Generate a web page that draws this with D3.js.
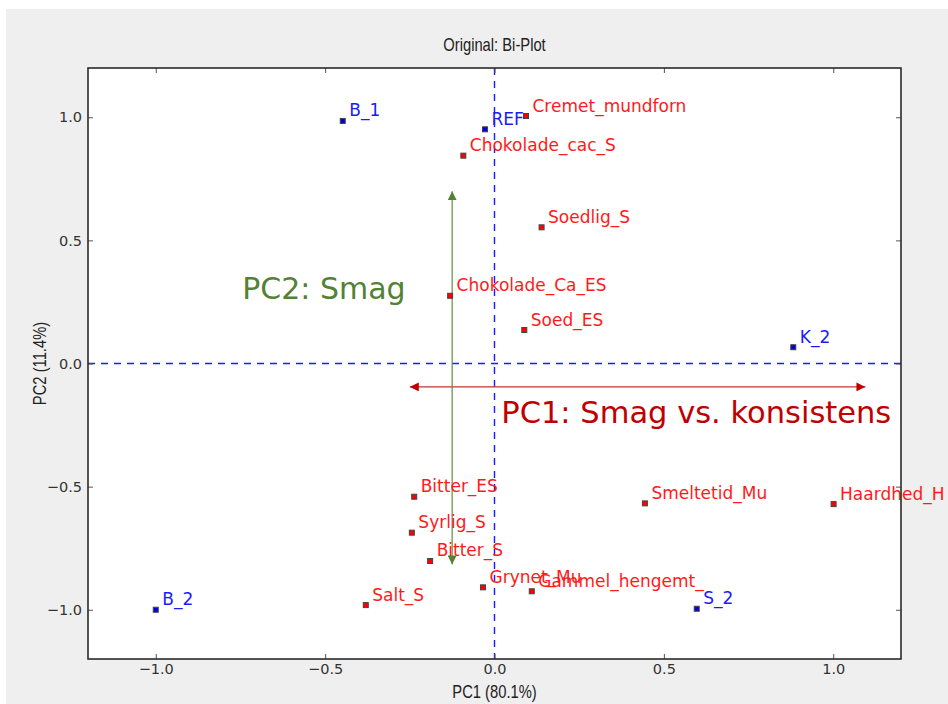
<!DOCTYPE html>
<html>
<head>
<meta charset="utf-8">
<script src="https://cdn.jsdelivr.net/npm/d3@7"></script>
<style>
  html, body { margin: 0; padding: 0; background: #ffffff; }
  svg { display: block; }
</style>
</head>
<body>
<svg id="chart" width="948" height="704"></svg>
<script>
// ---------- data ----------
const sampleNames = ["B_1", "REF", "K_2", "B_2", "S_2"];
const sampleX = [-0.448, -0.028, 0.882, -1.0, 0.597];
const sampleY = [0.985, 0.951, 0.066, -1.0, -0.996];

const varNames = ["Cremet_mundforn", "Chokolade_cac_S", "Soedlig_S", "Chokolade_Ca_ES", "Soed_ES",
                  "Bitter_ES", "Syrlig_S", "Bitter_S", "Salt_S", "Grynet_Mu", "Gammel_hengemt_",
                  "Smeltetid_Mu", "Haardhed_H"];
const varX = [0.093, -0.092, 0.139, -0.131, 0.088, -0.237, -0.244, -0.190, -0.380, -0.034, 0.110, 0.444, 1.001];
const varY = [1.005, 0.844, 0.553, 0.275, 0.136, -0.541, -0.687, -0.802, -0.981, -0.909, -0.925, -0.568, -0.571];

const xTicks = [-1.0, -0.5, 0.0, 0.5, 1.0];
const yTicks = [-1.0, -0.5, 0.0, 0.5, 1.0];
const xDomain = [-1.2, 1.2];
const yDomain = [-1.2, 1.2];

const titleText = "Original: Bi-Plot";
const xLabel = "PC1 (80.1%)";
const yLabel = "PC2 (11.4%)";

// annotation arrows (data units) and captions
const pc1Arrow = { x1: -0.25, x2: 1.095, y: -0.095 };
const pc2Arrow = { x: -0.125, y1: 0.70, y2: -0.816 };
const pc1Caption = { text: "PC1: Smag vs. konsistens", x: 0.020, y: -0.243 };
const pc2Caption = { text: "PC2: Smag", x: -0.745, y: 0.261 };

// ---------- layout ----------
const W = 948, H = 704;
const plot = { left: 88, right: 901, top: 68, bottom: 659 };

const svg = d3.select("#chart");

// outer grey panel
svg.append("rect").attr("x", 6).attr("y", 9).attr("width", W - 6).attr("height", H - 9)
  .attr("fill", "#efefef");

const x = d3.scaleLinear().domain(xDomain).range([plot.left, plot.right]);
const y = d3.scaleLinear().domain(yDomain).range([plot.bottom, plot.top]);

// plot background
svg.append("rect").attr("x", plot.left).attr("y", plot.top)
  .attr("width", plot.right - plot.left).attr("height", plot.bottom - plot.top)
  .attr("fill", "#ffffff");

// condensed text helper (narrow sans look)
const narrowFont = "'Liberation Sans', Arial, sans-serif";
function narrowText(tx, ty, rot, txt) {
  svg.append("text")
    .attr("transform", `translate(${tx},${ty}) rotate(${rot}) scale(0.82,1)`)
    .attr("text-anchor", "middle")
    .style("font-family", narrowFont).style("font-size", "18px")
    .attr("fill", "#222").text(txt);
}

// title
narrowText((plot.left + plot.right) / 2, 51, 0, titleText);

// dashed zero lines
svg.append("line").attr("x1", plot.left).attr("x2", plot.right).attr("y1", y(0)).attr("y2", y(0))
  .attr("stroke", "#1a1aff").attr("stroke-width", 1.4).attr("stroke-dasharray", "7,6");
svg.append("line").attr("x1", x(0)).attr("x2", x(0)).attr("y1", plot.top).attr("y2", plot.bottom)
  .attr("stroke", "#1a1aff").attr("stroke-width", 1.4).attr("stroke-dasharray", "7,6");

// arrow markers
const defs = svg.append("defs");
function addHead(id, color) {
  defs.append("marker").attr("id", id).attr("viewBox", "0 0 10 10")
    .attr("refX", 10).attr("refY", 5).attr("markerUnits", "userSpaceOnUse")
    .attr("markerWidth", 9).attr("markerHeight", 9).attr("orient", "auto-start-reverse")
    .append("path").attr("d", "M0,0 L10,5 L0,10 Z").attr("fill", color);
}
addHead("headRed", "#c00000");
addHead("headGreen", "#548235");

// red arrow (PC1)
svg.append("line")
  .attr("x1", x(pc1Arrow.x1)).attr("x2", x(pc1Arrow.x2))
  .attr("y1", y(pc1Arrow.y)).attr("y2", y(pc1Arrow.y))
  .attr("stroke", "#c83030").attr("stroke-width", 1.2)
  .attr("marker-start", "url(#headRed)").attr("marker-end", "url(#headRed)");

// green arrow (PC2)
svg.append("line")
  .attr("x1", x(pc2Arrow.x)).attr("x2", x(pc2Arrow.x))
  .attr("y1", y(pc2Arrow.y1)).attr("y2", y(pc2Arrow.y2))
  .attr("stroke", "#5f8f40").attr("stroke-width", 1.2)
  .attr("marker-start", "url(#headGreen)").attr("marker-end", "url(#headGreen)");

// captions
svg.append("text").attr("x", x(pc1Caption.x)).attr("y", y(pc1Caption.y))
  .style("font-family", "'DejaVu Sans', sans-serif").style("font-size", "30.5px")
  .attr("fill", "#c00000").text(pc1Caption.text);
svg.append("text").attr("x", x(pc2Caption.x)).attr("y", y(pc2Caption.y))
  .style("font-family", "'DejaVu Sans', sans-serif").style("font-size", "30px")
  .attr("fill", "#548235").text(pc2Caption.text);

// points
const samples = sampleNames.map((n, i) => ({ name: n, x: sampleX[i], y: sampleY[i] }));
const vars = varNames.map((n, i) => ({ name: n, x: varX[i], y: varY[i] }));

function drawPoints(data, fill, textColor) {
  const g = svg.append("g");
  g.selectAll("rect").data(data).join("rect")
    .attr("x", d => x(d.x) - 2.5).attr("y", d => y(d.y) - 2.5)
    .attr("width", 5).attr("height", 5)
    .attr("fill", fill).attr("stroke", "#444").attr("stroke-width", 1);
  g.selectAll("text").data(data).join("text")
    .attr("x", d => x(d.x) + 6.5).attr("y", d => y(d.y) - 4.5)
    .style("font-family", "'DejaVu Sans', sans-serif").style("font-size", "17px")
    .attr("fill", textColor).text(d => d.name);
}
drawPoints(vars, "#ff0000", "#ff1a1a");
drawPoints(samples, "#0000e0", "#1a1aff");

// axes (ticks inside, labels outside)
const tickFont = "'DejaVu Sans', sans-serif";
const axB = d3.axisBottom(x).tickValues(xTicks).tickFormat(d3.format(".1f")).tickSizeInner(-5).tickSizeOuter(0).tickPadding(5);
const axT = d3.axisTop(x).tickValues(xTicks).tickFormat("").tickSizeInner(-5).tickSizeOuter(0);
const axL = d3.axisLeft(y).tickValues(yTicks).tickFormat(d3.format(".1f")).tickSizeInner(-5).tickSizeOuter(0).tickPadding(6);
const axR = d3.axisRight(y).tickValues(yTicks).tickFormat("").tickSizeInner(-5).tickSizeOuter(0);

function styleAxis(g) {
  g.select(".domain").remove();
  g.selectAll(".tick line").attr("stroke", "#555").attr("stroke-width", 1);
  g.selectAll(".tick text").attr("fill", "#333").style("font-family", tickFont).style("font-size", "14.5px");
}
svg.append("g").attr("transform", `translate(0,${plot.bottom})`).call(axB).call(styleAxis);
svg.append("g").attr("transform", `translate(0,${plot.top})`).call(axT).call(styleAxis);
svg.append("g").attr("transform", `translate(${plot.left},0)`).call(axL).call(styleAxis);
svg.append("g").attr("transform", `translate(${plot.right},0)`).call(axR).call(styleAxis);

// frame
svg.append("rect").attr("x", plot.left).attr("y", plot.top)
  .attr("width", plot.right - plot.left).attr("height", plot.bottom - plot.top)
  .attr("fill", "none").attr("stroke", "#2a2a2a").attr("stroke-width", 1.6);

// axis labels
narrowText((plot.left + plot.right) / 2, 698, 0, xLabel);
narrowText(46, (plot.top + plot.bottom) / 2, -90, yLabel);
</script>
</body>
</html>
